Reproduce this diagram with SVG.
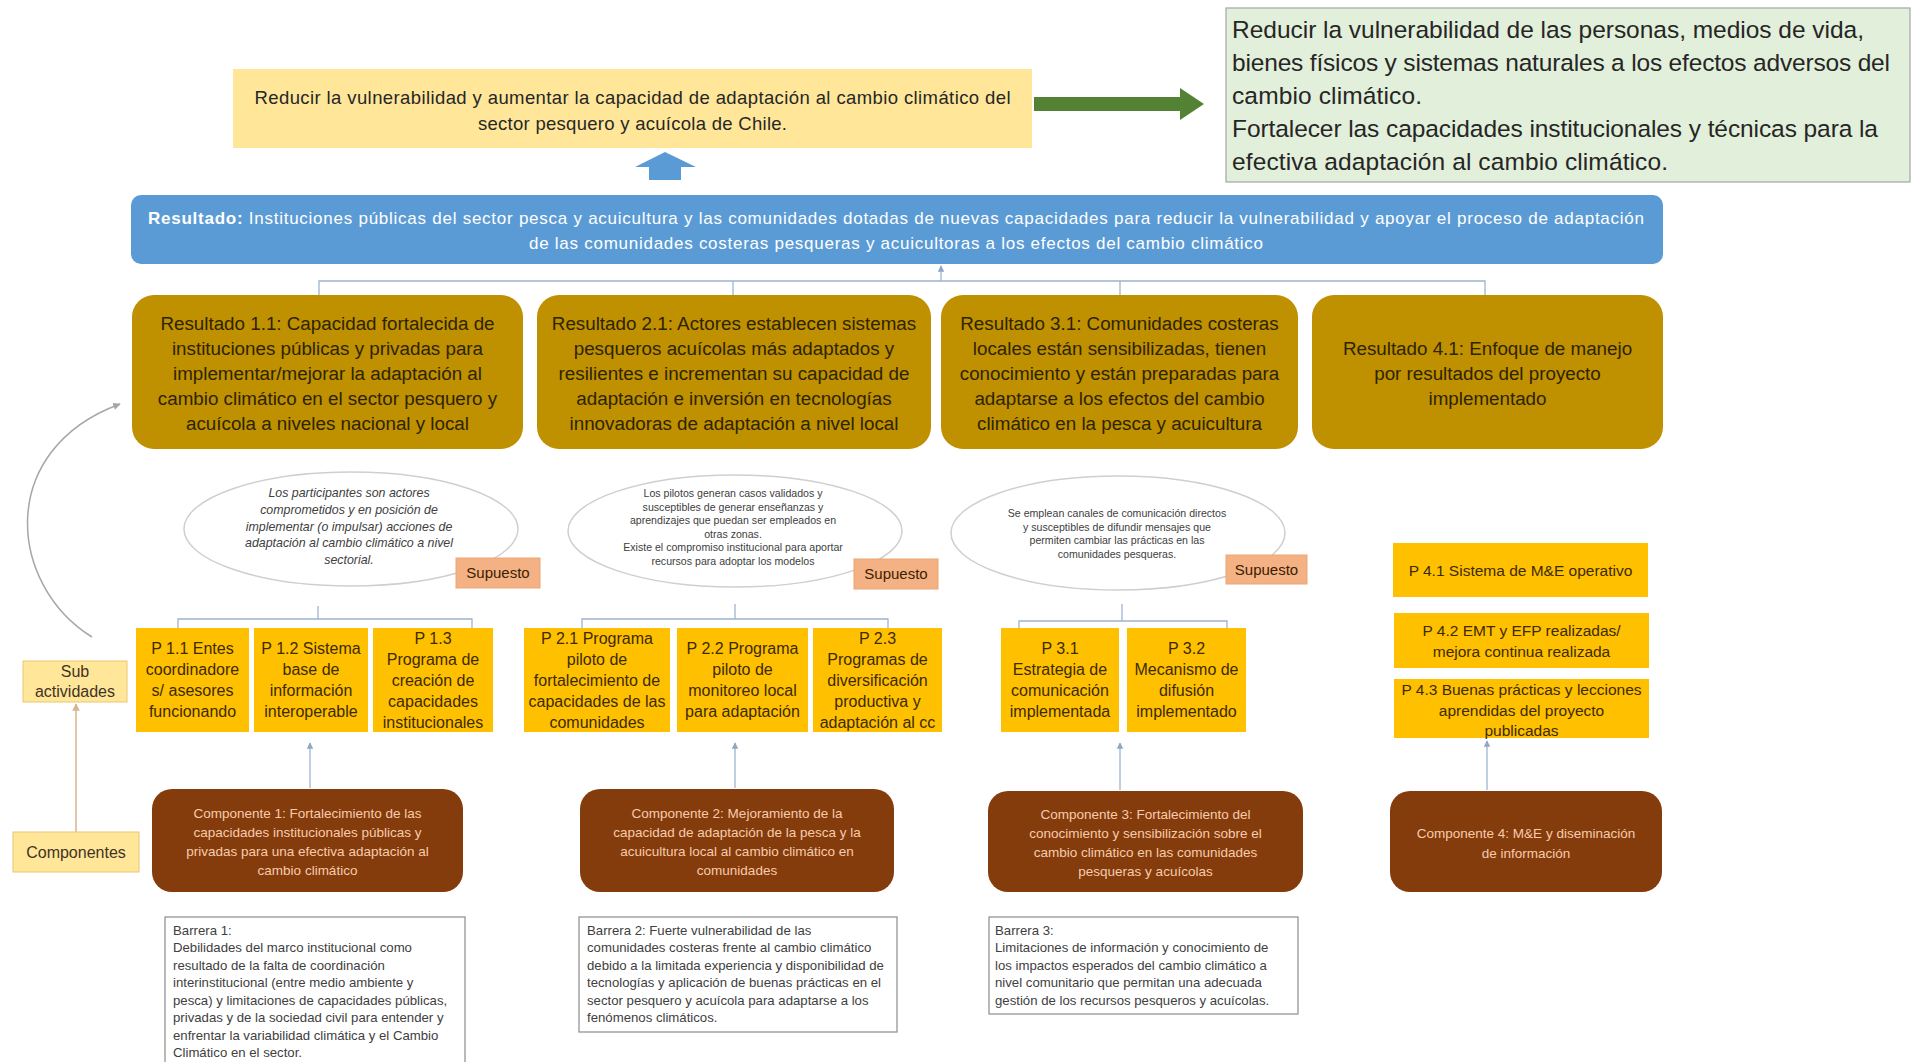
<svg xmlns="http://www.w3.org/2000/svg" width="1915" height="1062" viewBox="0 0 1915 1062">
<defs>
<style>
text{font-family:"Liberation Sans",Arial,sans-serif}
.goalbox{fill:#FFE699}
.goaltx{font-size:18.5px;fill:#262626;text-anchor:middle}
.imptx{font-size:24.5px;fill:#262626}
.outtx{font-size:17px;fill:#FFFFFF;text-anchor:middle}
.res{fill:#BF9000}
.restx{font-size:18.8px;fill:#2E2400;text-anchor:middle}
.ell{fill:#FFFFFF;stroke:#CFCFCF;stroke-width:1.5}
.ell1{font-size:12.4px;font-style:italic;fill:#404040;text-anchor:middle}
.ell2{font-size:10.6px;fill:#404040;text-anchor:middle}
.sup{fill:#F4B183;stroke:#EBA574;stroke-width:1}
.suptx{font-size:15px;fill:#3B2000;text-anchor:middle}
.pbox{fill:#FFC000}
.ptx{font-size:16px;fill:#3D2B00;text-anchor:middle}
.comp{fill:#843C0C}
.comptx{font-size:13.5px;fill:#F8CBAD;text-anchor:middle}
.bar{fill:#FFFFFF;stroke:#8C8C8C;stroke-width:1.2}
.bartx{font-size:13.2px;fill:#404040}
.lbl{fill:#FFE699;stroke:#E8C770;stroke-width:1}
.lbltx{font-size:16px;fill:#3F3322;text-anchor:middle}
.con{fill:none;stroke:#9DB4CF;stroke-width:1.3}
</style>
<marker id="ah" viewBox="0 0 10 10" refX="9" refY="5" markerWidth="5" markerHeight="5" orient="auto">
<path d="M0 0 L10 5 L0 10 z" fill="#8FA6C4"/>
</marker>
<marker id="ahg" viewBox="0 0 10 10" refX="9" refY="5" markerWidth="5" markerHeight="5" orient="auto">
<path d="M0 0 L10 5 L0 10 z" fill="#A6A6A6"/>
</marker>
<marker id="aht" viewBox="0 0 10 10" refX="9" refY="5" markerWidth="5" markerHeight="5" orient="auto">
<path d="M0 0 L10 5 L0 10 z" fill="#D9B38C"/>
</marker>
</defs>
<rect width="1915" height="1062" fill="#FFFFFF"/>

<g id="connectors">
<polygon points="1034,97 1180,97 1180,88 1204,104 1180,120 1180,111 1034,111" fill="#548235"/>
<polygon points="665,152 696,167 681,167 681,180 649,180 649,167 635,167" fill="#5B9BD5"/>
<line class="con" x1="941" y1="281" x2="941" y2="266" marker-end="url(#ah)"/>
<polyline class="con" points="319,296 319,281 1485,281 1485,296"/>
<line class="con" x1="733" y1="281" x2="733" y2="296"/>
<line class="con" x1="1120" y1="281" x2="1120" y2="296"/>
<line class="con" x1="318" y1="606" x2="318" y2="619"/>
<polyline class="con" points="178,628 178,619 472,619 472,628"/>
<line class="con" x1="735" y1="604" x2="735" y2="619"/>
<polyline class="con" points="582,628 582,619 888,619 888,628"/>
<line class="con" x1="1122" y1="604" x2="1122" y2="621"/>
<polyline class="con" points="1019,628 1019,621 1227,621 1227,628"/>
<line class="con" x1="310" y1="788" x2="310" y2="743" marker-end="url(#ah)"/>
<line class="con" x1="735" y1="788" x2="735" y2="743" marker-end="url(#ah)"/>
<line class="con" x1="1120" y1="790" x2="1120" y2="743" marker-end="url(#ah)"/>
<line class="con" x1="1487" y1="790" x2="1487" y2="741" marker-end="url(#ah)"/>
<path d="M92 637 C8 585 -5 450 120 404" fill="none" stroke="#A6A6A6" stroke-width="1.5" marker-end="url(#ahg)"/>
<line x1="76" y1="832" x2="76" y2="704" stroke="#D9B38C" stroke-width="1.5" marker-end="url(#aht)"/>
</g>

<g id="goal">
<rect class="goalbox" x="233" y="69" width="799" height="79"/>
<text class="goaltx" x="632.5" y="103.5" textLength="756">Reducir la vulnerabilidad y aumentar la capacidad de adaptación al cambio climático del</text>
<text class="goaltx" x="632.5" y="129.5" textLength="309">sector pesquero y acuícola de Chile.</text>
</g>

<g id="impact">
<rect x="1226" y="8" width="684" height="174" fill="#E2EFDA" stroke="#A5A5A5" stroke-width="1.2"/>
<text class="imptx" x="1232" y="37.5" textLength="632">Reducir la vulnerabilidad  de las personas, medios de vida,</text>
<text class="imptx" x="1232" y="70.5" textLength="658">bienes físicos y sistemas naturales a los efectos adversos del</text>
<text class="imptx" x="1232" y="103.5" textLength="190">cambio climático.</text>
<text class="imptx" x="1232" y="136.5" textLength="646">Fortalecer las capacidades institucionales  y técnicas para la</text>
<text class="imptx" x="1232" y="169.5" textLength="436">efectiva adaptación al cambio climático.</text>
</g>

<g id="outcome">
<rect x="131" y="195" width="1532" height="69" rx="10" fill="#5B9BD5"/>
<text class="outtx" x="896" y="224" textLength="1496"><tspan font-weight="bold">Resultado:</tspan> Instituciones públicas del sector pesca y acuicultura y las comunidades dotadas de nuevas capacidades para reducir la vulnerabilidad  y apoyar el proceso de adaptación</text>
<text class="outtx" x="896" y="249" textLength="734">de las comunidades costeras pesqueras y acuicultoras a los efectos del cambio climático</text>
</g>

<g id="result-1-1">
<rect class="res" x="132" y="295" width="391" height="154" rx="22"/>
<text class="restx" x="327.5" y="330">Resultado 1.1: Capacidad fortalecida de</text>
<text class="restx" x="327.5" y="355">instituciones públicas y privadas para</text>
<text class="restx" x="327.5" y="380">implementar/mejorar  la adaptación al</text>
<text class="restx" x="327.5" y="405">cambio climático en el sector pesquero y</text>
<text class="restx" x="327.5" y="430">acuícola a niveles nacional y local</text>
</g>
<g id="result-2-1">
<rect class="res" x="537" y="295" width="394" height="154" rx="22"/>
<text class="restx" x="734" y="330">Resultado 2.1: Actores establecen sistemas</text>
<text class="restx" x="734" y="355">pesqueros acuícolas más adaptados y</text>
<text class="restx" x="734" y="380">resilientes e incrementan su capacidad de</text>
<text class="restx" x="734" y="405">adaptación e inversión en tecnologías</text>
<text class="restx" x="734" y="430">innovadoras de adaptación a nivel local</text>
</g>
<g id="result-3-1">
<rect class="res" x="941" y="295" width="357" height="154" rx="22"/>
<text class="restx" x="1119.5" y="330">Resultado 3.1: Comunidades costeras</text>
<text class="restx" x="1119.5" y="355">locales están sensibilizadas, tienen</text>
<text class="restx" x="1119.5" y="380">conocimiento y están preparadas para</text>
<text class="restx" x="1119.5" y="405">adaptarse a los efectos del cambio</text>
<text class="restx" x="1119.5" y="430">climático en la pesca y acuicultura</text>
</g>
<g id="result-4-1">
<rect class="res" x="1312" y="295" width="351" height="154" rx="22"/>
<text class="restx" x="1487.5" y="355">Resultado 4.1: Enfoque de manejo</text>
<text class="restx" x="1487.5" y="380">por resultados del proyecto</text>
<text class="restx" x="1487.5" y="405">implementado</text>
</g>

<g id="assumption-1">
<ellipse class="ell" cx="351" cy="529" rx="167" ry="57"/>
<text class="ell1" x="349" y="497">Los participantes son actores</text>
<text class="ell1" x="349" y="514">comprometidos y en posición de</text>
<text class="ell1" x="349" y="531">implementar (o impulsar) acciones de</text>
<text class="ell1" x="349" y="547">adaptación al cambio climático a nivel</text>
<text class="ell1" x="349" y="564">sectorial.</text>
<rect class="sup" x="456" y="558" width="84" height="30"/>
<text class="suptx" x="498" y="578">Supuesto</text>
</g>
<g id="assumption-2">
<ellipse class="ell" cx="735" cy="531" rx="167" ry="56"/>
<text class="ell2" x="733" y="497">Los pilotos generan casos validados y</text>
<text class="ell2" x="733" y="510.5">susceptibles de generar enseñanzas y</text>
<text class="ell2" x="733" y="524">aprendizajes que puedan ser empleados en</text>
<text class="ell2" x="733" y="537.5">otras zonas.</text>
<text class="ell2" x="733" y="551">Existe el compromiso  institucional para aportar</text>
<text class="ell2" x="733" y="564.5">recursos para adoptar  los modelos</text>
<rect class="sup" x="854" y="559" width="84" height="30"/>
<text class="suptx" x="896" y="579">Supuesto</text>
</g>
<g id="assumption-3">
<ellipse class="ell" cx="1118" cy="533" rx="167" ry="57"/>
<text class="ell2" x="1117" y="517">Se emplean canales de comunicación directos</text>
<text class="ell2" x="1117" y="530.5">y susceptibles de difundir  mensajes que</text>
<text class="ell2" x="1117" y="544">permiten cambiar las prácticas en las</text>
<text class="ell2" x="1117" y="557.5">comunidades  pesqueras.</text>
<rect class="sup" x="1226" y="555" width="81" height="29"/>
<text class="suptx" x="1266.5" y="575">Supuesto</text>
</g>

<g id="p-1-1">
<rect class="pbox" x="136" y="628" width="113" height="104"/>
<text class="ptx" x="192.5" y="654">P 1.1 Entes</text>
<text class="ptx" x="192.5" y="675">coordinadore</text>
<text class="ptx" x="192.5" y="696">s/ asesores</text>
<text class="ptx" x="192.5" y="717">funcionando</text>
</g>
<g id="p-1-2">
<rect class="pbox" x="254" y="628" width="114" height="104"/>
<text class="ptx" x="311" y="654">P 1.2 Sistema</text>
<text class="ptx" x="311" y="675">base de</text>
<text class="ptx" x="311" y="696">información</text>
<text class="ptx" x="311" y="717">interoperable</text>
</g>
<g id="p-1-3">
<rect class="pbox" x="373" y="628" width="120" height="104"/>
<text class="ptx" x="433" y="643.5">P 1.3</text>
<text class="ptx" x="433" y="664.5">Programa de</text>
<text class="ptx" x="433" y="685.5">creación de</text>
<text class="ptx" x="433" y="706.5">capacidades</text>
<text class="ptx" x="433" y="727.5">institucionales</text>
</g>
<g id="p-2-1">
<rect class="pbox" x="524" y="628" width="146" height="104"/>
<text class="ptx" x="597" y="643.5">P 2.1 Programa</text>
<text class="ptx" x="597" y="664.5">piloto de</text>
<text class="ptx" x="597" y="685.5">fortalecimiento de</text>
<text class="ptx" x="597" y="706.5">capacidades de las</text>
<text class="ptx" x="597" y="727.5">comunidades</text>
</g>
<g id="p-2-2">
<rect class="pbox" x="677" y="628" width="131" height="104"/>
<text class="ptx" x="742.5" y="654">P 2.2 Programa</text>
<text class="ptx" x="742.5" y="675">piloto de</text>
<text class="ptx" x="742.5" y="696">monitoreo local</text>
<text class="ptx" x="742.5" y="717">para adaptación</text>
</g>
<g id="p-2-3">
<rect class="pbox" x="813" y="628" width="129" height="104"/>
<text class="ptx" x="877.5" y="643.5">P 2.3</text>
<text class="ptx" x="877.5" y="664.5">Programas de</text>
<text class="ptx" x="877.5" y="685.5">diversificación</text>
<text class="ptx" x="877.5" y="706.5">productiva y</text>
<text class="ptx" x="877.5" y="727.5">adaptación al cc</text>
</g>
<g id="p-3-1">
<rect class="pbox" x="1001" y="628" width="118" height="104"/>
<text class="ptx" x="1060" y="654">P 3.1</text>
<text class="ptx" x="1060" y="675">Estrategia de</text>
<text class="ptx" x="1060" y="696">comunicación</text>
<text class="ptx" x="1060" y="717">implementada</text>
</g>
<g id="p-3-2">
<rect class="pbox" x="1127" y="628" width="119" height="104"/>
<text class="ptx" x="1186.5" y="654">P 3.2</text>
<text class="ptx" x="1186.5" y="675">Mecanismo de</text>
<text class="ptx" x="1186.5" y="696">difusión</text>
<text class="ptx" x="1186.5" y="717">implementado</text>
</g>
<g id="p-4-1">
<rect class="pbox" x="1393" y="543" width="255" height="54"/>
<text class="ptx" x="1520.5" y="575.5" style="font-size:15.5px">P 4.1 Sistema de M&amp;E operativo</text>
</g>
<g id="p-4-2">
<rect class="pbox" x="1394" y="613" width="255" height="55"/>
<text class="ptx" x="1521.5" y="635.5" style="font-size:15.5px">P 4.2 EMT y EFP realizadas/</text>
<text class="ptx" x="1521.5" y="656.5" style="font-size:15.5px">mejora continua realizada</text>
</g>
<g id="p-4-3">
<rect class="pbox" x="1394" y="679" width="255" height="59"/>
<text class="ptx" x="1521.5" y="694.5" style="font-size:15.5px">P 4.3 Buenas prácticas y lecciones</text>
<text class="ptx" x="1521.5" y="715.5" style="font-size:15.5px">aprendidas del proyecto</text>
<text class="ptx" x="1521.5" y="735.5" style="font-size:15.5px">publicadas</text>
</g>

<g id="component-1">
<rect class="comp" x="152" y="789" width="311" height="103" rx="20"/>
<text class="comptx" x="307.5" y="818">Componente 1: Fortalecimiento de las</text>
<text class="comptx" x="307.5" y="837">capacidades institucionales públicas y</text>
<text class="comptx" x="307.5" y="856">privadas para una efectiva  adaptación al</text>
<text class="comptx" x="307.5" y="875">cambio climático</text>
</g>
<g id="component-2">
<rect class="comp" x="580" y="789" width="314" height="103" rx="20"/>
<text class="comptx" x="737" y="818">Componente 2: Mejoramiento de la</text>
<text class="comptx" x="737" y="837">capacidad de adaptación de la pesca y la</text>
<text class="comptx" x="737" y="856">acuicultura local al cambio climático en</text>
<text class="comptx" x="737" y="875">comunidades</text>
</g>
<g id="component-3">
<rect class="comp" x="988" y="791" width="315" height="101" rx="20"/>
<text class="comptx" x="1145.5" y="819">Componente 3: Fortalecimiento del</text>
<text class="comptx" x="1145.5" y="838">conocimiento y sensibilización sobre el</text>
<text class="comptx" x="1145.5" y="857">cambio climático en las comunidades</text>
<text class="comptx" x="1145.5" y="876">pesqueras y acuícolas</text>
</g>
<g id="component-4">
<rect class="comp" x="1390" y="791" width="272" height="101" rx="20"/>
<text class="comptx" x="1526" y="838">Componente 4: M&amp;E y diseminación</text>
<text class="comptx" x="1526" y="858">de información</text>
</g>

<g id="barrier-1">
<rect class="bar" x="165" y="917" width="300" height="160"/>
<text class="bartx" x="173" y="934.5">Barrera 1:</text>
<text class="bartx" x="173" y="952">Debilidades del marco institucional como</text>
<text class="bartx" x="173" y="969.5">resultado de la falta de coordinación</text>
<text class="bartx" x="173" y="987">interinstitucional (entre medio ambiente y</text>
<text class="bartx" x="173" y="1004.5">pesca) y limitaciones de capacidades públicas,</text>
<text class="bartx" x="173" y="1022">privadas y de la sociedad civil para entender y</text>
<text class="bartx" x="173" y="1039.5">enfrentar la variabilidad climática y el Cambio</text>
<text class="bartx" x="173" y="1057">Climático en el sector.</text>
</g>
<g id="barrier-2">
<rect class="bar" x="579" y="917" width="318" height="115"/>
<text class="bartx" x="587" y="934.5">Barrera 2: Fuerte vulnerabilidad de las</text>
<text class="bartx" x="587" y="952">comunidades costeras frente al cambio climático</text>
<text class="bartx" x="587" y="969.5">debido a la limitada experiencia y disponibilidad de</text>
<text class="bartx" x="587" y="987">tecnologías y aplicación de buenas prácticas en el</text>
<text class="bartx" x="587" y="1004.5">sector pesquero y acuícola para adaptarse a los</text>
<text class="bartx" x="587" y="1022">fenómenos climáticos.</text>
</g>
<g id="barrier-3">
<rect class="bar" x="989" y="917" width="309" height="97"/>
<text class="bartx" x="995" y="934.5">Barrera 3:</text>
<text class="bartx" x="995" y="952">Limitaciones de información y conocimiento de</text>
<text class="bartx" x="995" y="969.5">los impactos esperados del cambio climático a</text>
<text class="bartx" x="995" y="987">nivel comunitario que permitan una adecuada</text>
<text class="bartx" x="995" y="1004.5">gestión de los recursos pesqueros y acuícolas.</text>
</g>

<g id="label-subactividades">
<rect class="lbl" x="23" y="661" width="104" height="41"/>
<text class="lbltx" x="75" y="677">Sub</text>
<text class="lbltx" x="75" y="697">actividades</text>
</g>
<g id="label-componentes">
<rect class="lbl" x="13" y="832" width="126" height="40"/>
<text class="lbltx" x="76" y="857.5">Componentes</text>
</g>
</svg>
